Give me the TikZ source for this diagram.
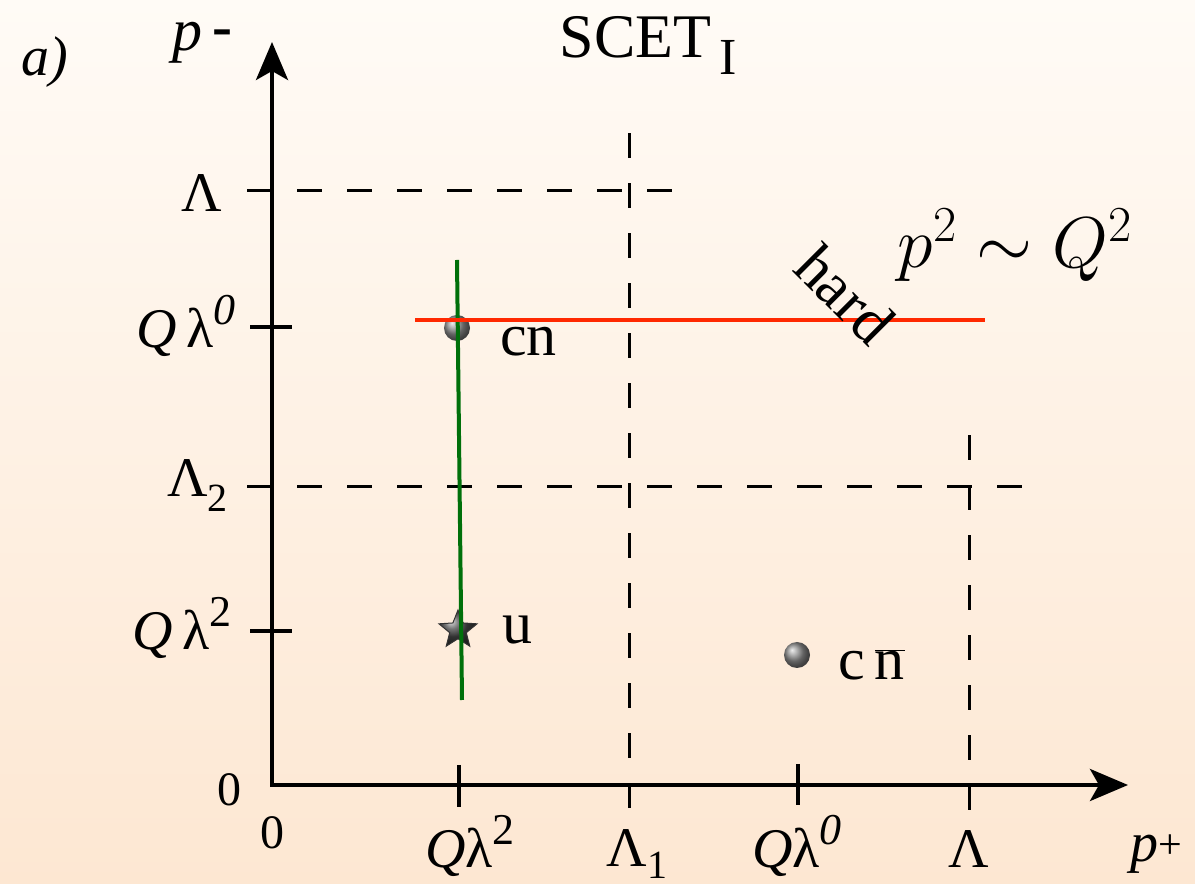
\RequirePackage{fix-cm}
\documentclass[tikz,border=0pt]{standalone}
\usepackage{fontspec}
\setmainfont{Liberation Serif}
\usetikzlibrary{arrows.meta,shapes.geometric}

\definecolor{bgtop}{RGB}{255,251,246}
\definecolor{bgbottom}{RGB}{253,231,210}
\definecolor{hardred}{RGB}{255,40,0}
\definecolor{collgreen}{RGB}{0,112,10}

\newcommand{\lblsize}{\fontsize{56}{60}\selectfont}
\newcommand{\modesize}{\fontsize{60}{64}\selectfont}
\newcommand{\supnum}[1]{\raisebox{0.42em}{\fontsize{44}{44}\selectfont #1}}
\newcommand{\subnum}[2][15pt]{\raisebox{-#1}{\fontsize{40}{40}\selectfont #2}}

\begin{document}
\begin{tikzpicture}[
    x=1pt, y=1pt,
    axis/.style={line width=4pt, line join=miter, {Stealth[length=38pt, width=32pt, inset=9pt]}-{Stealth[length=38pt, width=32pt, inset=9pt]}},
    tick/.style={line width=3.5pt},
    guide/.style={line width=3pt, dash pattern=on 25pt off 25pt},
    lbl/.style={inner sep=0pt, font=\lblsize},
    zero/.style={inner sep=0pt, font=\fontsize{48}{50}\selectfont},
    modelbl/.style={inner sep=0pt, font=\modesize, anchor=west},
    mode/.style={circle, minimum size=26pt, inner sep=0pt, shading=ball, ball color=gray!90},
    softmode/.style={star, star points=5, star point ratio=2.3, minimum size=40pt, inner sep=0pt, draw=black!80, line width=1pt, shading=ball, ball color=gray!55!black}
]

% Background
\fill[top color=bgtop, bottom color=bgbottom] (0,0) rectangle (1195,884);
\useasboundingbox (0,0) rectangle (1195,884);

% Axes
\coordinate (O) at (272,99);
\coordinate (ytip) at (272,842);
\coordinate (xtip) at (1128,99);
\draw[axis] (ytip) -- (O) -- (xtip);

% Dashed boundaries
\draw[guide] (247,693) -- (672,693);
\draw[guide] (247,397) -- (1022,397);
\draw[guide] (629,76) -- (629,751);
\draw[guide] (969,74) -- (969,449);

% Ticks on p- axis
\draw[tick] (250,557) -- (292,557);
\draw[tick] (250,253) -- (292,253);

% Ticks on p+ axis
\draw[tick] (459,119) -- (459,77);
\draw[tick] (798,120) -- (798,79);

% Labels on p- axis
\node[lbl, anchor=base east] (ylam) at (222,672) {Λ};
\node[lbl, anchor=base east] (yql0) at (236,536) {\textit{Q}\,λ\supnum{\textit{0}}};
\node[lbl, anchor=base east] (ylam2) at (228,387) {Λ\subnum{2}};
\node[lbl, anchor=base east] (yql2) at (232,234) {\textit{Q}\,λ\supnum{2}};
\node[zero] (yzero) at (229,94) {0};

% Labels on p+ axis
\node[zero] (xzero) at (272,51) {0};
\node[lbl, anchor=base] (xql2) at (470,16) {\textit{Q}λ\supnum{2}};
\node[lbl, anchor=base] (xlam1) at (637,17) {Λ\subnum[12pt]{1}};
\node[lbl, anchor=base] (xql0) at (797,16) {\textit{Q}λ\supnum{\textit{0}}};
\node[lbl, anchor=base] (xlam) at (969,16) {Λ};
\node[lbl, anchor=base] (xlabel) at (1156,22) {\textit{p}\raisebox{3pt}{\fontsize{42}{42}\selectfont +}};

% Axis names and title
\node[inner sep=0pt, font=\fontsize{56}{60}\selectfont] (panel) at (45,822) {\textit{a)}};
\node[inner sep=0pt, font=\fontsize{60}{64}\selectfont, anchor=base] (ylabel) at (202,833) {\textit{p}\,\raisebox{4pt}{\textbf{-}}};
\node[inner sep=0pt, font=\fontsize{62}{66}\selectfont, anchor=base] (title) at (648,826) {SCET\hspace{8pt}\raisebox{-17pt}{\fontsize{52}{52}\selectfont I}};

% Modes
\node[mode] (cn) at (457,556) {};
\node[mode] (cnbar) at (797,229) {};
\node[softmode] (us) at (458,254) {};
\node[modelbl] (cnlbl) at (500,542) {cn};
\node[modelbl] (uslbl) at (502,254) {u};
\node[modelbl] (cnbarlbl) at (838,219) {c\,\ensuremath{\overline{\mbox{n}}}};

% Collinear and hard lines
\coordinate (gtop) at (457,624);
\coordinate (gbot) at (462,184);
\draw[collgreen, line width=4pt] (gtop) -- (gbot);
\coordinate (rleft) at (415,564);
\coordinate (rright) at (985,564);
\draw[hardred, line width=4.5pt] (rleft) -- (rright);

\node[inner sep=0pt, font=\fontsize{62}{66}\selectfont, rotate=-45] (hard) at (845,590) {hard};
\node[inner sep=0pt, font=\fontsize{72}{76}\selectfont] (virt) at (1015,639) {$p^2\sim Q^2$};

\end{tikzpicture}
\end{document}
